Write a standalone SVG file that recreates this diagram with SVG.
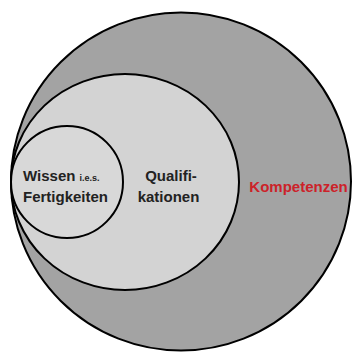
<svg xmlns="http://www.w3.org/2000/svg" width="352" height="360" viewBox="0 0 352 360">
<style>
.c{stroke:#000;stroke-width:2}
.t{font-family:"Liberation Sans",Arial,sans-serif;font-weight:bold;font-size:15px;fill:#222}
</style>
<rect width="352" height="360" fill="#fff"/>
<g id="kompetenzen">
<ellipse class="c" cx="181" cy="181.5" rx="170" ry="169" fill="#a3a3a3"/>
<text class="t" x="298.5" y="192" text-anchor="middle" style="fill:#cc2229">Kompetenzen</text>
</g>
<g id="qualifikationen">
<ellipse class="c" cx="125" cy="182" rx="114" ry="108" fill="#d3d3d3"/>
<text class="t" x="171" y="181" text-anchor="middle">Qualifi-</text>
<text class="t" x="168.5" y="202" text-anchor="middle">kationen</text>
</g>
<g id="wissen">
<ellipse class="c" cx="67" cy="182" rx="56" ry="56" fill="#d8d8d8"/>
<text class="t" x="23" y="181">Wissen <tspan style="font-size:9px">i.e.s.</tspan></text>
<text class="t" x="23" y="202">Fertigkeiten</text>
</g>
</svg>
